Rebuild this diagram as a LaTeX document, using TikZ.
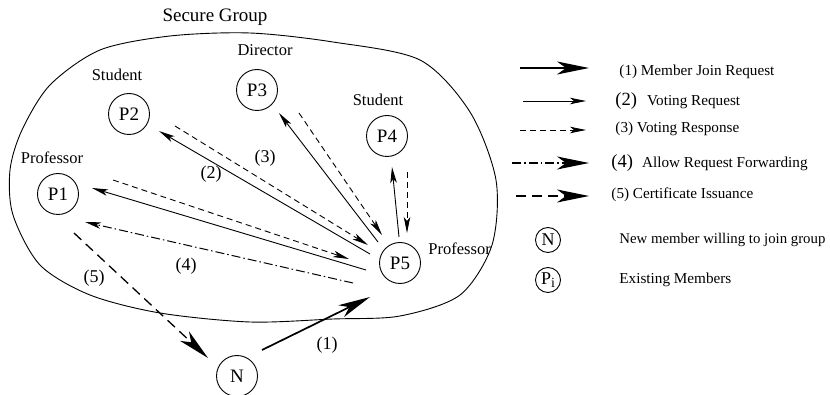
\documentclass[tikz,border=0pt]{standalone}
\usepackage{fontspec}
\setmainfont{Liberation Serif}
\usetikzlibrary{arrows.meta}

\tikzset{
  member/.style={draw,circle,minimum size=41pt,inner sep=0pt,font=\fontsize{19}{22}\selectfont},
  legmember/.style={draw,circle,minimum size=25pt,inner sep=0pt,font=\fontsize{18}{20}\selectfont},
  role/.style={inner sep=0pt,font=\fontsize{16.5}{19}\selectfont},
  steplbl/.style={inner sep=0pt,font=\fontsize{18}{20}\selectfont},
  legtext/.style={anchor=west,inner sep=0pt,font=\fontsize{15.2}{18}\selectfont},
  bighead/.style={-{Stealth[length=32pt,width=13pt,inset=9pt]}},
  smallhead/.style={-{Stealth[length=16pt,width=6.5pt,inset=4pt]}},
  joinreq/.style={line width=1.7pt,bighead},
  votereq/.style={line width=0.9pt,smallhead},
  voteresp/.style={line width=0.9pt,dash pattern=on 6pt off 4pt,smallhead},
  fwdreq/.style={line width=1pt,dash pattern=on 9pt off 3pt on 1.5pt off 3pt,smallhead},
  certiss/.style={line width=1.3pt,dash pattern=on 10pt off 6pt,bighead},
}

\begin{document}
\begin{tikzpicture}[x=1pt,y=-1pt,line width=0.9pt]
    \useasboundingbox (0,0) rectangle (830,395);
    % the group
    \draw plot[smooth cycle] coordinates {(100,50) (170,36) (250,33) (333,42) (420,60) (470,112)
        (496,180) (492,245) (460,295) (400,316) (333,319) (250,322) (160,313) (90,295)
        (40,265) (13,215) (10,170) (22,130) (50,85)};
    \node[inner sep=0pt,font=\fontsize{19}{22}\selectfont] (grouptitle) at (215,17) {Secure Group};

    \node[member] (P1) at (58,194) {P1};
    \node[member] (P2) at (129,114) {P2};
    \node[member] (P3) at (257,90) {P3};
    \node[member] (P4) at (387,136) {P4};
    \node[member] (P5) at (400,263) {P5};
    \node[member] (N) at (237,376) {N};

    \node[role] (roleP1) at (52,158) {Professor};
    \node[role] (roleP2) at (117,75) {Student};
    \node[role] (roleP3) at (265,50) {Director};
    \node[role] (roleP4) at (378,100) {Student};
    \node[role,anchor=west] (roleP5) at (428,249) {Professor};

    % messages
    \draw[votereq] ([shift={(-34,7)}]P5.center) -- ([shift={(34,-6)}]P1.center);
    \draw[voteresp] ([shift={(55,-14)}]P1.center) -- ([shift={(-51,-4)}]P5.center);
    \draw[fwdreq] ([shift={(-47,20)}]P5.center) -- ([shift={(27,28)}]P1.center);
    \draw[certiss] ([shift={(16,39)}]P1.center) -- ([shift={(-29,-18)}]N.center);
    \draw[joinreq] ([shift={(25,-26)}]N.center) -- ([shift={(-30,34)}]P5.center);
    \draw[votereq] ([shift={(-30,-9)}]P5.center) -- ([shift={(30,17)}]P2.center);
    \draw[voteresp] ([shift={(46,12)}]P2.center) -- ([shift={(-32,-18)}]P5.center);
    \draw[votereq] ([shift={(-22,-21)}]P5.center) -- ([shift={(22,23)}]P3.center);
    \draw[voteresp] ([shift={(42,23)}]P3.center) -- ([shift={(-18,-28)}]P5.center);
    \draw[votereq] ([shift={(-1,-26)}]P5.center) -- ([shift={(5,31)}]P4.center);
    \draw[voteresp] ([shift={(20,36)}]P4.center) -- ([shift={(7,-30)}]P5.center);

    \node[steplbl] (s2) at (211,174) {(2)};
    \node[steplbl] (s3) at (265,158) {(3)};
    \node[steplbl] (s4) at (186,266) {(4)};
    \node[steplbl] (s5) at (94,278) {(5)};
    \node[steplbl] (s1) at (327,345) {(1)};

    % legend
    \node[legtext] (leg1) at (619,72) {(1) Member Join Request};
    \node[legtext] (leg2) at (615,101) {{\fontsize{18.6}{20}\selectfont(2)}\hspace{10pt}Voting Request};
    \node[legtext] (leg3) at (615,129) {(3) Voting Response};
    \node[legtext] (leg4) at (611,163) {{\fontsize{18.6}{20}\selectfont(4)}\hspace{9pt}Allow Request Forwarding};
    \node[legtext] (leg5) at (611,195) {(5) Certificate Issuance};
    \draw[joinreq] ([shift={(-99,-4)}]leg1.west) -- ([shift={(-30,-4)}]leg1.west);
    \draw[votereq] ([shift={(-92,0)}]leg2.west) -- ([shift={(-29,0)}]leg2.west);
    \draw[voteresp] ([shift={(-95,1)}]leg3.west) -- ([shift={(-29,1)}]leg3.west);
    \draw[fwdreq,line width=1.3pt,bighead] ([shift={(-99,0)}]leg4.west) -- ([shift={(-22,0)}]leg4.west);
    \draw[certiss] ([shift={(-95,1)}]leg5.west) -- ([shift={(-22,1)}]leg5.west);

    \node[legmember] (legN) at (548,240) {N};
    \node[legtext,font=\fontsize{14.8}{18}\selectfont] (legNtext) at (619,240) {New member willing to join group};
    \node[legmember] (legP) at (548,280) {P\raisebox{-3pt}{\fontsize{14}{14}\selectfont i}};
    \node[legtext] (legPtext) at (619,280) {Existing Members};
\end{tikzpicture}
\end{document}
